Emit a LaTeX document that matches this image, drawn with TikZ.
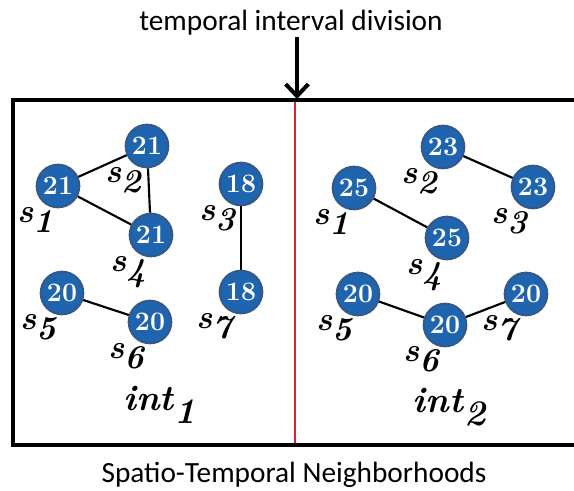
\documentclass[tikz,border=0pt]{standalone}
\usepackage{fontspec}
\newfontfamily\calfont{Carlito}
\usepackage{xcolor}
\usetikzlibrary{arrows.meta}

\definecolor{siteblue}{RGB}{30,100,174}
\definecolor{siteedge}{RGB}{52,88,136}
\definecolor{divred}{RGB}{230,30,40}

\newcommand{\sname}[1]{\textbf{\textit{s}}$_{\textbf{\textit{#1}}}$}
\newcommand{\intname}[1]{\textbf{\textit{int}}$_{\textbf{\textit{#1}}}$}

\begin{document}
\begin{tikzpicture}[
    x=0.75pt,
    y=-0.75pt,
    site/.style={
        circle,
        fill=siteblue,
        draw=siteedge,
        line width=1.5pt,
        minimum size=32pt,
        inner sep=0pt,
        text=white,
        font=\bfseries\fontsize{20}{20}\selectfont
    },
    slab/.style={
        inner sep=0pt,
        label distance=0pt,
        xshift=5.5pt,
        yshift=-1pt,
        font=\fontsize{25}{25}\selectfont
    },
    link/.style={
        line width=1.6pt
    },
    caption/.style={
        font=\calfont\fontsize{22}{22}\selectfont
    }
]

\useasboundingbox (0,0) rectangle (574,491);

% divider and frame
\coordinate (redtop) at (295,100);
\coordinate (redbot) at (295,445);
\draw[divred, line width=1.6pt] (redtop) -- (redbot);
\draw[line width=2.3pt] (13,100) rectangle (590,445);

% arrow from label
\node[caption] (divlabel) at (291,23) {temporal interval division};
\coordinate (arrtop) at (297,37);
\coordinate (arrbot) at (297,99);
\draw[line width=3pt, -{Straight Barb[length=9pt,width=17pt]}] (arrtop) -- (arrbot);

% first interval
\node[site, label={[slab]240:\sname{1}}] (a1) at (58,186) {21};
\node[site, label={[slab]240:\sname{2}}] (a2) at (147,146) {21};
\node[site, label={[slab]240:\sname{4}}] (a4) at (151,235) {21};
\node[site, label={[slab]240:\sname{3}}] (a3) at (241,184) {18};
\node[site, label={[slab]240:\sname{7}}] (a7) at (241,292) {18};
\node[site, label={[slab]240:\sname{5}}] (a5) at (62,293) {20};
\node[site, label={[slab]240:\sname{6}}] (a6) at (150,322) {20};

\draw[link] (a1) -- (a2);
\draw[link] (a1) -- (a4);
\draw[link] (a2) -- (a4);
\draw[link] (a3) -- (a7);
\draw[link] (a5) -- (a6);

% second interval
\node[site, label={[slab]240:\sname{1}}] (b1) at (354,188) {25};
\node[site, label={[slab]240:\sname{2}}] (b2) at (443,147) {23};
\node[site, label={[slab]240:\sname{3}}] (b3) at (533,187) {23};
\node[site, label={[slab]240:\sname{4}}] (b4) at (447,238) {25};
\node[site, label={[slab]240:\sname{5}}] (b5) at (358,294) {20};
\node[site, label={[slab]240:\sname{6}}] (b6) at (445,325) {20};
\node[site, label={[slab]240:\sname{7}}] (b7) at (526,294) {20};

\draw[link] (b2) -- (b3);
\draw[link] (b1) -- (b4);
\draw[link] (b5) -- (b6);
\draw[link] (b6) -- (b7);

% interval names
\node[font=\fontsize{27}{27}\selectfont] (int1) at (160,405) {\intname{1}};
\node[font=\fontsize{27}{27}\selectfont] (int2) at (450,407) {\intname{2}};

\node[caption] (neigh) at (294,475) {Spatio-Temporal Neighborhoods};

\end{tikzpicture}
\end{document}
